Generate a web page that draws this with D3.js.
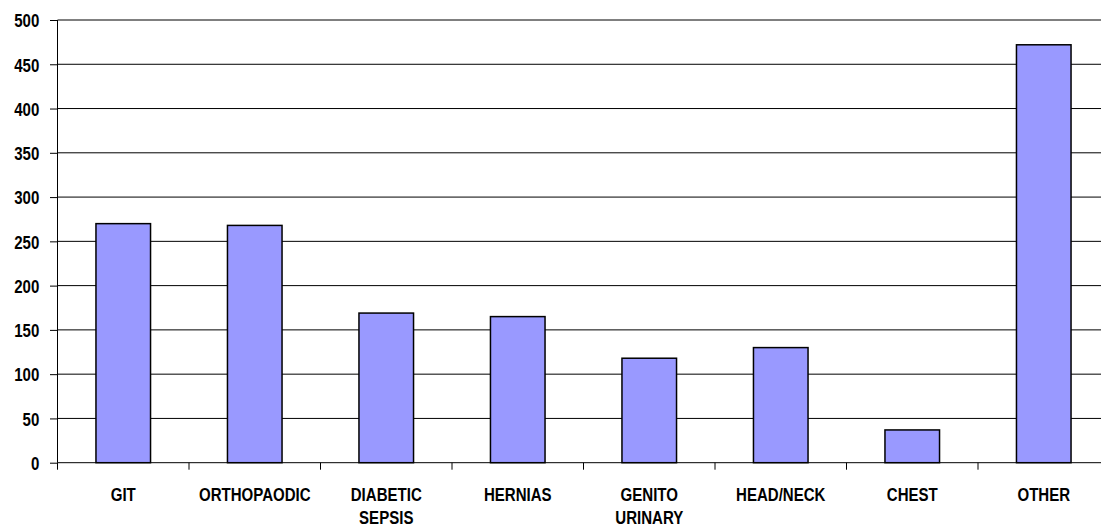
<!DOCTYPE html>
<html>
<head>
<meta charset="utf-8">
<script src="https://cdn.jsdelivr.net/npm/d3@7"></script>
<style>
  html, body { margin: 0; padding: 0; background: #fff; overflow: hidden; }
  svg { display: block; }
  text { font-family: "Liberation Sans Narrow", "Arial Narrow", "Liberation Sans", Arial, sans-serif; fill: #000; font-weight: bold; }
</style>
</head>
<body>
<svg id="chart" width="1101" height="529"></svg>
<script>
// Cases by surgical category
const categories = [["GIT"], ["ORTHOPAODIC"], ["DIABETIC", "SEPSIS"], ["HERNIAS"], ["GENITO", "URINARY"], ["HEAD/NECK"], ["CHEST"], ["OTHER"]];
const values = [270, 268, 169, 165, 118, 130, 37, 472];
const yTicks = [0, 50, 100, 150, 200, 250, 300, 350, 400, 450, 500];

const width = 1101, height = 529;
const margin = { top: 20, left: 57.5, bottom: 66.3 };
const plotRight = 1109.5;
const fontSize = 18.8;
const squeeze = 0.8; // horizontal condensing of the label face

const svg = d3.select("#chart");
const keys = categories.map(c => c.join(" "));

const x = d3.scaleBand().domain(keys).range([margin.left, plotRight]).padding(0);
const y = d3.scaleLinear().domain([0, 500]).range([height - margin.bottom, margin.top]);
const barW = x.bandwidth() * 0.415;

// horizontal gridlines
svg.append("g")
  .selectAll("line")
  .data(yTicks.filter(d => d > 0))
  .join("line")
  .attr("x1", margin.left).attr("x2", plotRight)
  .attr("y1", d => y(d)).attr("y2", d => y(d))
  .attr("stroke", "#000").attr("stroke-width", 1);

// bars
svg.append("g")
  .selectAll("rect")
  .data(values)
  .join("rect")
  .attr("x", (d, i) => x(keys[i]) + (x.bandwidth() - barW) / 2)
  .attr("y", d => y(d))
  .attr("width", barW)
  .attr("height", d => y(0) - y(d))
  .attr("fill", "#9999FF")
  .attr("stroke", "#000")
  .attr("stroke-width", 1.5);

// y axis
const yAxis = d3.axisLeft(y).tickValues(yTicks).tickSize(7.5).tickPadding(10.7).tickFormat(d3.format("d"));
const gy = svg.append("g").attr("transform", `translate(${margin.left},0)`).call(yAxis);
gy.select(".domain").attr("stroke", "#000").attr("d", `M0,${y(0)}V${y(500)}`);
gy.selectAll(".tick line").attr("stroke", "#000");
gy.selectAll(".tick text")
  .attr("font-size", fontSize).attr("font-family", null)
  .attr("x", -18.2 / squeeze)
  .attr("dy", "0.36em")
  .attr("transform", `scale(${squeeze},1)`);

// x axis: ticks at category boundaries
const gx = svg.append("g").attr("transform", `translate(0,${y(0)})`);
gx.append("line").attr("x1", margin.left).attr("x2", plotRight).attr("y1", 0).attr("y2", 0).attr("stroke", "#000");
gx.selectAll("line.tk")
  .data(keys)
  .join("line")
  .attr("class", "tk")
  .attr("x1", d => x(d)).attr("x2", d => x(d))
  .attr("y1", 0).attr("y2", 7)
  .attr("stroke", "#000");

const lbl = gx.selectAll("g.cat")
  .data(categories)
  .join("g")
  .attr("class", "cat")
  .attr("transform", (d, i) => `translate(${x(keys[i]) + x.bandwidth() / 2},0) scale(${squeeze},1)`);
lbl.selectAll("text")
  .data(d => d)
  .join("text")
  .attr("text-anchor", "middle")
  .attr("font-size", fontSize)
  .attr("x", 0)
  .attr("y", (d, i) => 38.3 + i * 23.3)
  .text(d => d);
</script>
</body>
</html>
